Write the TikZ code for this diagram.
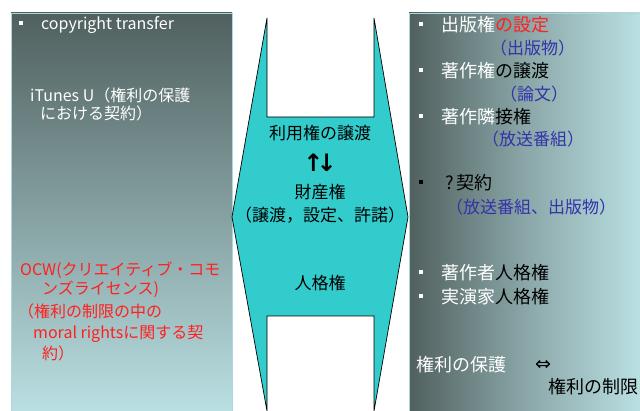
\documentclass[tikz,border=0pt]{standalone}
\usepackage{fontspec}
\newfontfamily\cjk{Noto Sans CJK JP}
\newfontfamily\djv{DejaVu Sans}
\definecolor{midcyan}{RGB}{51,204,204}
\definecolor{darkbox}{RGB}{80,96,95}
\definecolor{lightbox}{RGB}{188,226,229}
\definecolor{boxedge}{RGB}{170,215,220}
\definecolor{txtred}{RGB}{255,32,32}
\definecolor{txtblue}{RGB}{51,51,170}
\newcommand\sqbul[1]{\textcolor{#1}{\rule[0.3em]{4pt}{4pt}}\hspace{18pt}}
\begin{document}
\begin{tikzpicture}[x=1pt,y=-1pt,
  txt/.style={font=\cjk\fontsize{17}{17}\selectfont, anchor=west, inner sep=0pt},
  btxt/.style={font=\cjk\fontsize{18}{18}\selectfont, anchor=west, inner sep=0pt},
  ltxt/.style={font=\cjk\fontsize{16}{16}\selectfont, anchor=west, inner sep=0pt},
  ctxt/.style={font=\cjk\fontsize{17}{17}\selectfont, anchor=center, inner sep=0pt, text=black}]
\useasboundingbox (0,0) rectangle (640,411);
\fill[white] (0,0) rectangle (640,411);
% left box
\shade[top color=darkbox, bottom color=lightbox] (11,13) rectangle (232,420);
\draw[boxedge, line width=0.8pt] (11,420) -- (11,13) -- (232,13) -- (232,420);
% right box
\shade[left color=darkbox, right color=lightbox, middle color=darkbox!45!lightbox] (409,13) rectangle (645,420);
\draw[boxedge, line width=0.8pt] (409,420) -- (409,13) -- (645,13);
% middle shape
\filldraw[fill=midcyan, draw=black, line width=0.7pt]
  (267,18) -- (267,117) -- (374,117) -- (374,18) -- (408,217) -- (374,411)
  -- (374,316) -- (267,316) -- (267,411) -- (232,217) -- cycle;
% middle texts
\node[ctxt] (m1) at (320,133) {利用権の譲渡};
\node[ctxt, font=\djv\bfseries\fontsize{24}{24}\selectfont] (m2) at (320,163) {↑\kern-7pt↓};
\node[ctxt] (m3) at (320,192) {財産権};
\node[ctxt] (m4) at (320,215) {（譲渡，設定、許諾）};
\node[ctxt] (m5) at (320,283) {人格権};
% left texts
\node[ltxt, text=white] (l1) at (19,25) {\sqbul{white}copyright transfer};
\node[ltxt, text=white] (l2) at (30,95) {iTunes U（権利の保護};
\node[ltxt, text=white] (l3) at (40,113) {における契約）};
\node[ltxt, text=txtred] (l4) at (20,270) {OCW(クリエイティブ・コモ};
\node[ltxt, text=txtred] (l5) at (42,289) {ンズライセンス)};
\node[ltxt, text=txtred] (l6) at (18,311) {（権利の制限の中の};
\node[ltxt, text=txtred] (l7) at (33,334) {moral rightsに関する契};
\node[ltxt, text=txtred] (l8) at (42,353) {約）};
% right texts
\node[btxt, text=white] (r1) at (419,25) {\sqbul{white}出版権\textcolor{txtred}{の設定}};
\node[txt, text=txtblue] (r2) at (490,48) {（出版物）};
\node[btxt, text=white] (r3) at (419,71) {\sqbul{white}著作権\textcolor{black}{の譲渡}};
\node[txt, text=txtblue] (r4) at (500,94) {（論文）};
\node[btxt, text=white] (r5) at (419,117) {\sqbul{white}著作隣\textcolor{black}{接権}};
\node[txt, text=txtblue] (r6) at (482,139) {（放送番組）};
\node[btxt, text=black] (r7) at (419,183) {\sqbul{black}\hspace{4pt}?\,契約};
\node[txt, text=txtblue] (r8) at (446,207) {（放送番組、出版物）};
\node[btxt, text=white] (r9) at (419,273) {\sqbul{white}著作者\textcolor{black}{人格権}};
\node[btxt, text=white] (r10) at (419,297) {\sqbul{white}実演家\textcolor{black}{人格権}};
\node[btxt, text=white] (r11) at (416,365) {権利の保護};
\node[txt, text=black, font=\djv\fontsize{19}{19}\selectfont] (r12) at (535,365) {⇔};
\node[btxt, text=black] (r13) at (548,387) {権利の制限};
\end{tikzpicture}
\end{document}
